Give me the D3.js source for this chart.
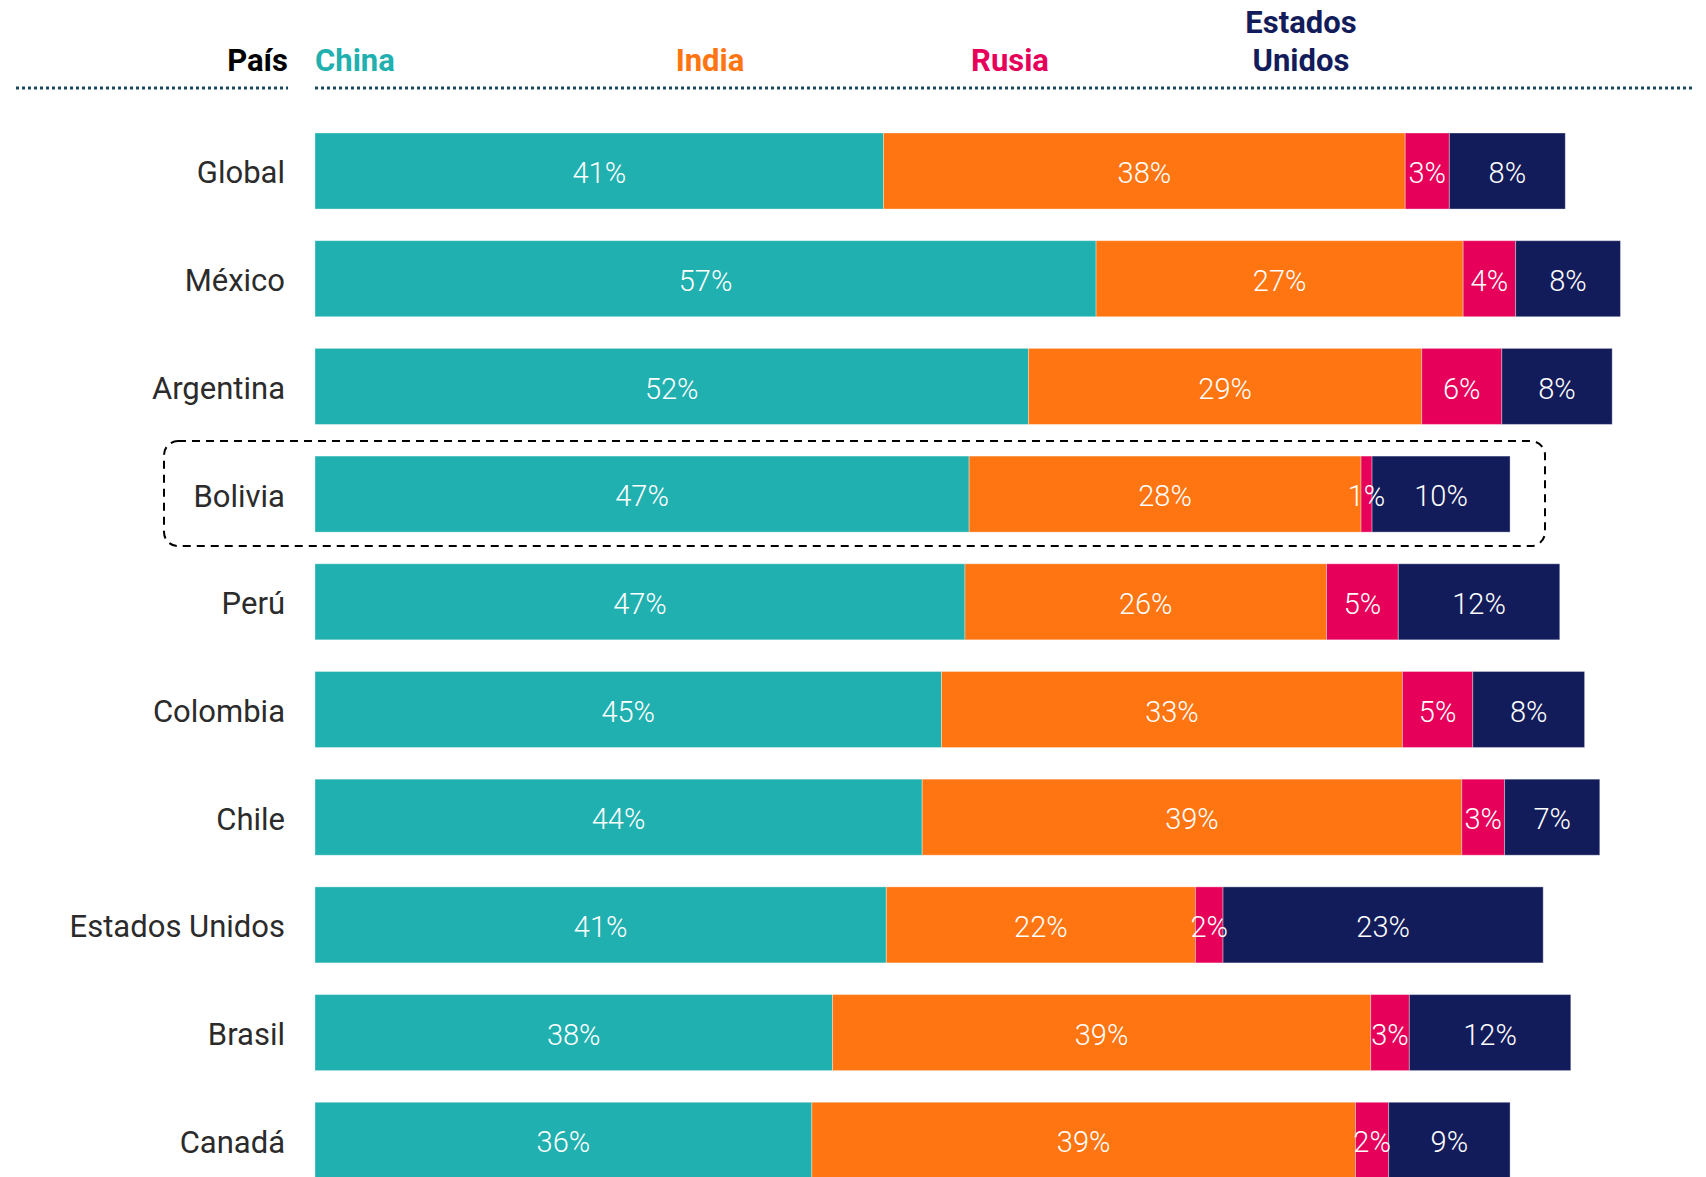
<!DOCTYPE html>
<html>
<head>
<meta charset="utf-8">
<script src="https://cdn.jsdelivr.net/npm/d3@7"></script>
<style>
  body { margin: 0; background: #fff; }
  svg { display: block; }
</style>
</head>
<body>
<div id="chart"></div>
<script>
// Data
var countries = ['Global', 'México', 'Argentina', 'Bolivia', 'Perú', 'Colombia', 'Chile', 'Estados Unidos', 'Brasil', 'Canadá'];
var seriesNames = ['China', 'India', 'Rusia', 'Estados Unidos'];
var china  = [41.2, 56.6, 51.7, 47.4, 47.1, 45.4, 44.0, 41.4, 37.5, 36.0];
var india  = [37.8, 26.6, 28.5, 28.4, 26.2, 33.4, 39.1, 22.4, 39.0, 39.4];
var rusia  = [ 3.2,  3.8,  5.8,  0.8,  5.2,  5.1,  3.1,  2.0,  2.8,  2.4];
var eeuu   = [ 8.4,  7.6,  8.0, 10.0, 11.7,  8.1,  6.9, 23.2, 11.7,  8.8];
var highlighted = 'Bolivia';

var colors = ['#1fb0af', '#ff7511', '#e6005a', '#131c5a'];

// Layout
var width = 1706, height = 1177;
var labelRight = 285;

var svg = d3.select('#chart').append('svg')
    .attr('width', width)
    .attr('height', height);

var x = d3.scaleLinear().domain([0, 100]).range([315, 1695]);
var y = d3.scaleBand().domain(countries).range([133, 1178.3]).paddingInner(0.294).paddingOuter(0);

// Build stacked rows
var rows = countries.map(function(c, i) {
    return { country: c, China: china[i], India: india[i], Rusia: rusia[i], 'Estados Unidos': eeuu[i] };
});
var stacked = d3.stack().keys(seriesNames)(rows);

// Header labels
var headerBase = 71;
svg.append('text')
    .attr('x', 288).attr('y', headerBase)
    .attr('text-anchor', 'end')
    .style('font-family', 'Roboto, sans-serif')
    .style('font-weight', 700)
    .style('font-size', '31px')
    .style('fill', '#000')
    .text('País');

var headerPos = [
    { x: x(0), anchor: 'start' },
    { x: 710, anchor: 'middle' },
    { x: 1010, anchor: 'middle' },
    { x: 1301, anchor: 'middle' }
];
seriesNames.forEach(function(name, i) {
    var t = svg.append('text')
        .attr('x', headerPos[i].x)
        .attr('text-anchor', headerPos[i].anchor)
        .style('font-family', 'Roboto, sans-serif')
        .style('font-weight', 700)
        .style('font-size', '31px')
        .style('fill', colors[i]);
    var words = name.split(' ');
    if(words.length > 1) {
        t.append('tspan').attr('x', headerPos[i].x).attr('y', headerBase - 38).text(words[0]);
        t.append('tspan').attr('x', headerPos[i].x).attr('y', headerBase).text(words[1]);
    } else {
        t.attr('y', headerBase).text(name);
    }
});

// Dotted rules under header
[[16, 288], [x(0), 1694]].forEach(function(seg) {
    svg.append('line')
        .attr('x1', seg[0]).attr('x2', seg[1])
        .attr('y1', 88).attr('y2', 88)
        .style('stroke', '#1b4a5c')
        .style('stroke-width', 3)
        .style('stroke-dasharray', '3,3');
});

// Country labels
svg.selectAll('.country')
    .data(countries)
    .enter().append('text')
    .attr('class', 'country')
    .attr('x', labelRight)
    .attr('y', function(d) { return y(d) + y.bandwidth() / 2; })
    .attr('dy', '0.4em')
    .attr('text-anchor', 'end')
    .style('font-family', 'Roboto, sans-serif')
    .style('font-weight', 400)
    .style('font-size', '31px')
    .style('fill', '#2b2b2b')
    .text(function(d) { return d; });

// Bars
var layers = svg.selectAll('.layer')
    .data(stacked)
    .enter().append('g')
    .attr('class', 'layer')
    .style('fill', function(d, i) { return colors[i]; });

layers.selectAll('rect')
    .data(function(d) { return d; })
    .enter().append('rect')
    .attr('x', function(d) { return x(d[0]); })
    .attr('y', function(d) { return y(d.data.country); })
    .attr('width', function(d) { return x(d[1]) - x(d[0]); })
    .attr('height', y.bandwidth())
    .style('stroke', '#fff')
    .style('stroke-opacity', 0.35)
    .style('stroke-width', 1);

// Value labels (drawn above all bars)
var labelLayers = svg.selectAll('.labels')
    .data(stacked)
    .enter().append('g')
    .attr('class', 'labels');

labelLayers.selectAll('text')
    .data(function(d) { return d; })
    .enter().append('text')
    .attr('x', function(d) { return (x(d[0]) + x(d[1])) / 2; })
    .attr('y', function(d) { return y(d.data.country) + y.bandwidth() / 2; })
    .attr('dy', '0.42em')
    .attr('text-anchor', 'middle')
    .style('font-family', 'Roboto, sans-serif')
    .style('font-weight', 300)
    .style('font-size', '29px')
    .style('fill', '#fff')
    .text(function(d) { return Math.round(d[1] - d[0]) + '%'; });

// Highlight box
var hy = y(highlighted);
svg.append('rect')
    .attr('x', 164)
    .attr('y', hy - 15)
    .attr('width', 1545 - 164)
    .attr('height', y.bandwidth() + 29)
    .attr('rx', 14)
    .style('fill', 'none')
    .style('stroke', '#000')
    .style('stroke-width', 2)
    .style('stroke-dasharray', '8,6');
</script>
</body>
</html>
